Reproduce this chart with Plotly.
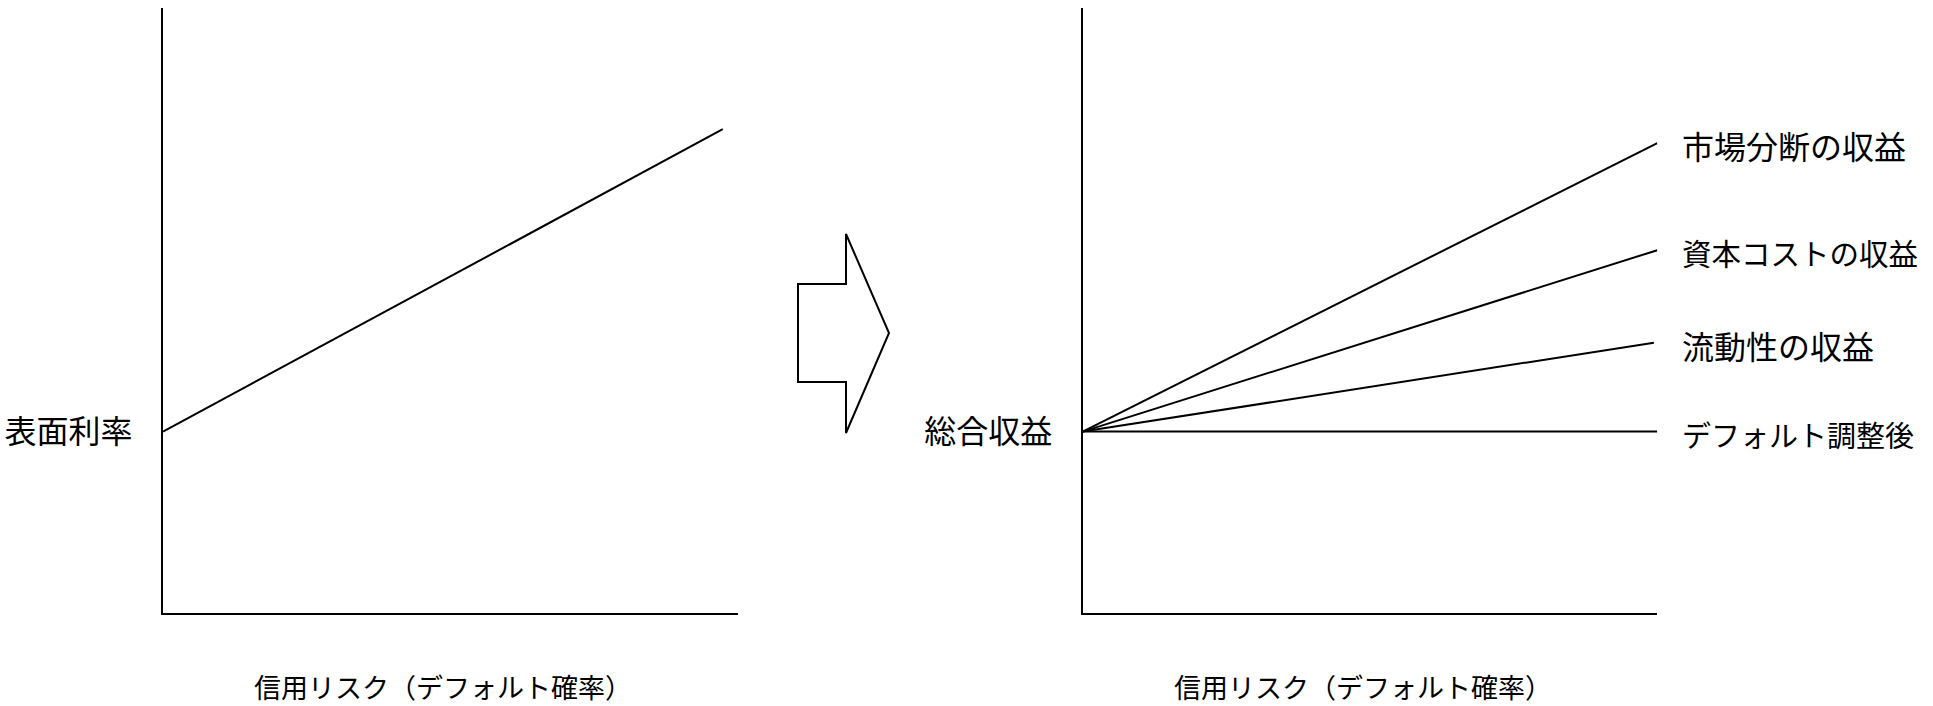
import plotly.graph_objects as go

FONT = "Noto Sans CJK JP"
LINE_WIDTH = 2

WIDTH = 1933
HEIGHT = 706

# left panel: coupon rate against credit risk
left_x = [0, 9.74]
coupon_rate = [3.0, 8.0]
left_ylabel = "表面利率"

# right panel: decomposition of total return
right_ylabel = "総合収益"
series_names = ["市場分断の収益", "資本コストの収益", "流動性の収益", "デフォルト調整後"]
series_x_end = [10, 10, 9.94, 10]
series_start = [3.0, 3.0, 3.0, 3.0]
series_end = [7.77, 6.0, 4.47, 3.0]
series_label_size = [32, 29.5, 32, 29]

x_title = "信用リスク（デフォルト確率）"

# block arrow between the panels, in pixels of the page
ARROW_PX = [(798, 284), (846, 284), (846, 234), (889, 333),
            (846, 433), (846, 382), (798, 382)]


def px_x(x):
    """page pixel x -> paper x"""
    return x / WIDTH


def px_y(y):
    """page pixel y -> paper y"""
    return 1 - y / HEIGHT


fig = go.Figure()

fig.add_trace(go.Scatter(
    x=left_x, y=coupon_rate, mode="lines",
    line=dict(color="black", width=LINE_WIDTH),
    xaxis="x", yaxis="y", showlegend=False, hoverinfo="skip",
))

for name, xe, y0, y1, fs in zip(series_names, series_x_end, series_start,
                                 series_end, series_label_size):
    fig.add_trace(go.Scatter(
        x=[0, xe], y=[y0, y1], mode="lines", name=name,
        line=dict(color="black", width=LINE_WIDTH),
        xaxis="x2", yaxis="y2", showlegend=False, hoverinfo="skip",
    ))
    fig.add_annotation(
        x=10, y=y1, xref="x2", yref="y2", text=name, showarrow=False,
        xanchor="left", yanchor="middle", xshift=23, yshift=-2,
        font=dict(size=fs),
    )

axis_common = dict(
    showgrid=False, zeroline=False, showline=True,
    linecolor="black", linewidth=LINE_WIDTH, fixedrange=True,
)
x_common = dict(axis_common, range=[0, 10], showticklabels=False, ticks="")
y_common = dict(axis_common, range=[0, 10], ticks="", tickvals=[3.0],
                ticklabelstandoff=22, tickfont=dict(size=32))

path = "M " + " L ".join(
    "{:.5f},{:.5f}".format(px_x(x), px_y(y)) for x, y in ARROW_PX
) + " Z"

for xref, yref in [("x", "y"), ("x2", "y2")]:
    fig.add_annotation(
        x=0.5, y=0, xref=xref + " domain", yref=yref + " domain",
        text=x_title, showarrow=False, xanchor="center", yanchor="middle",
        yshift=-74, xshift=-7, font=dict(size=27),
    )

y_domain = [px_y(613), px_y(8.3)]

fig.update_layout(
    width=WIDTH, height=HEIGHT,
    margin=dict(l=0, r=0, t=0, b=0),
    paper_bgcolor="white", plot_bgcolor="white",
    font=dict(family=FONT, size=29, color="black"),
    xaxis=dict(x_common, domain=[px_x(163), px_x(737.7)], anchor="y"),
    yaxis=dict(y_common, domain=y_domain, anchor="x",
               ticktext=[left_ylabel]),
    xaxis2=dict(x_common, domain=[px_x(1082.7), px_x(1657.3)], anchor="y2"),
    yaxis2=dict(y_common, domain=y_domain, anchor="x2",
                ticktext=[right_ylabel]),
    shapes=[dict(type="path", path=path, xref="paper", yref="paper",
                 line=dict(color="black", width=LINE_WIDTH),
                 fillcolor="white")],
)

# drop the default body margin so the figure fills the window exactly
fig.write_html(
    "out.html",
    config={"displayModeBar": False},
    post_script="document.body.style.margin = '0';",
)
